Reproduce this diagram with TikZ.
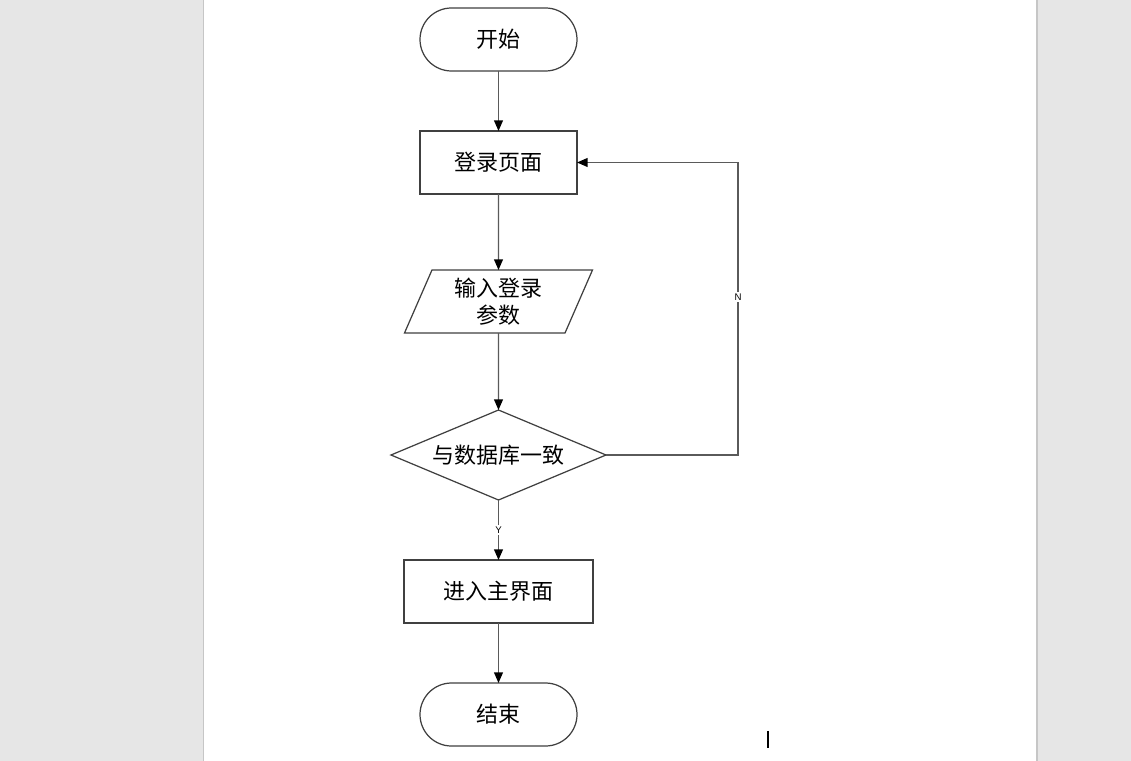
\documentclass[tikz,border=0pt]{standalone}
\usepackage{fontspec}
\setmainfont{Liberation Sans}
\newfontfamily\cjk{Noto Sans CJK SC}
\usetikzlibrary{shapes.geometric, arrows.meta, positioning}
\definecolor{pagegray}{RGB}{230,230,230}
\definecolor{edgegray}{RGB}{198,198,198}
\definecolor{shapeline}{RGB}{64,64,64}
\definecolor{flowline}{RGB}{90,90,90}

\begin{document}
\begin{tikzpicture}[
    terminal/.style={rectangle, rounded corners=0.63cm, draw=shapeline, line width=0.7pt,
                minimum width=3.14cm, minimum height=1.26cm, outer sep=0pt,
                font=\cjk\fontsize{12.5pt}{15.3pt}\selectfont},
    box/.style={rectangle, draw=shapeline, line width=0.7pt,
                minimum width=3.14cm, minimum height=1.26cm, outer sep=0pt,
                font=\cjk\fontsize{12.5pt}{15.3pt}\selectfont},
    iobox/.style={trapezium, trapezium left angle=65, trapezium right angle=115,
                trapezium stretches body, draw=shapeline, line width=0.7pt,
                minimum width=3.76cm, minimum height=1.26cm, outer sep=0pt, align=center,
                font=\cjk\fontsize{12.5pt}{15.3pt}\selectfont},
    decision/.style={diamond, aspect=2.39, draw=shapeline, line width=0.7pt, inner sep=0pt,
                minimum width=4.3cm, minimum height=1.8cm, outer sep=0pt,
                font=\cjk\fontsize{12.5pt}{15.3pt}\selectfont},
    arr/.style={-{Triangle[length=6pt, width=5pt, color=black]}, line width=0.75pt, color=flowline},
    tag/.style={fill=white, text=black, inner sep=1pt, font=\fontsize{5.5pt}{6pt}\selectfont}
]
% page background
\useasboundingbox (0,0) rectangle (22.62,-15.22);
\fill[pagegray] (0,0) rectangle (22.62,-15.22);
\fill[white] (4.08,0) rectangle (20.74,-15.22);
\draw[edgegray, line width=0.6pt] (4.07,0) -- (4.07,-15.22);
\draw[edgegray, line width=0.6pt] (20.74,0) -- (20.74,-15.22);
\draw[line width=0.8pt] (15.36,-14.62) -- (15.36,-14.96);

\node[terminal] (start) at (9.97,-0.79) {开始};
\node[box, below=1.2cm of start] (login) {登录页面};
\node[iobox, below=1.52cm of login] (input) {输入登录\\参数};
\node[decision, below=1.54cm of input] (check) {与数据库一致};
\node[box, minimum width=3.78cm, below=1.2cm of check] (mainui) {进入主界面};
\node[terminal, below=1.2cm of mainui] (finish) {结束};

\draw[arr] (start) -- (login);
\draw[arr] (login) -- (input);
\draw[arr] (input) -- (check);
\draw[arr] (check) -- node[tag] {Y} (mainui);
\draw[arr] (check.east) -- ++(2.64,0) |- node[tag, pos=0.27] {N} (login.east);
\draw[arr] (mainui) -- (finish);
\end{tikzpicture}
\end{document}
